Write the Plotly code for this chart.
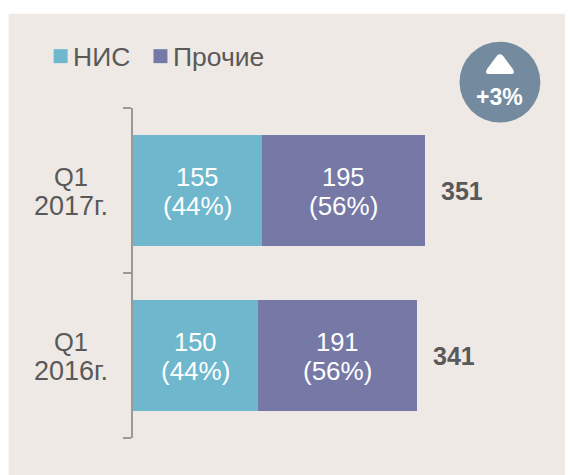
import plotly.graph_objects as go

W, H = 565, 467   # the page adds an 8px body margin, so the window is 573x475
OFF = 8
categories = ["Q1<br>2016г.", "Q1<br>2017г."]
cat_lines = [["Q1", "2016г."], ["Q1", "2017г."]]
nis = [150, 155]
other = [191, 195]
nis_share = ["44%", "44%"]
other_share = ["56%", "56%"]
totals = ["341", "351"]
series_names = ["НИС", "Прочие"]
badge = "+3%"

TEAL, PURPLE, BG, GREY, BADGE = "#6FB7CD", "#7679A6", "#EEE9E5", "#595959", "#738A9F"
FONT = "Liberation Sans"
ML, MR, MT, MB = 124.5, 120, 99.5, 36.5


def px(x):
    return (x - OFF - ML) / (W - ML - MR)


def py(y):
    return 1 - (y - OFF - MT) / (H - MT - MB)


fig = go.Figure()
for name, vals, col in [(series_names[0], nis, TEAL), (series_names[1], other, PURPLE)]:
    fig.add_bar(y=categories, x=vals, name=name, orientation="h", marker_color=col,
                marker_line_width=0, cliponaxis=False, showlegend=False)

shapes = [
    dict(type="rect", xref="paper", yref="paper", x0=px(8), x1=px(575), y0=py(13), y1=py(477),
         fillcolor=BG, line_width=0, layer="below"),
    dict(type="rect", xref="paper", yref="paper", x0=px(53), x1=px(67), y0=py(48.5), y1=py(62.5),
         fillcolor=TEAL, line_width=0),
    dict(type="rect", xref="paper", yref="paper", x0=px(153), x1=px(167), y0=py(48.5), y1=py(62.5),
         fillcolor=PURPLE, line_width=0),
    dict(type="circle", xref="paper", yref="paper", x0=px(459.5), x1=px(540.5), y0=py(41), y1=py(122),
         fillcolor=BADGE, line_width=0),
]
path = (
    f"M {px(497):.5f} {py(55):.5f} Q {px(500):.5f} {py(52):.5f} {px(503):.5f} {py(55):.5f} "
    f"L {px(512.5):.5f} {py(68):.5f} Q {px(516):.5f} {py(73.5):.5f} {px(511):.5f} {py(73.5):.5f} "
    f"L {px(489):.5f} {py(73.5):.5f} Q {px(484):.5f} {py(73.5):.5f} {px(487.5):.5f} {py(68):.5f} Z"
)
shapes.append(dict(type="path", xref="paper", yref="paper", path=path, fillcolor="white", line_width=0))


def note(**kw):
    base = dict(showarrow=False, xanchor="center", yanchor="middle")
    base.update(kw)
    return base


annotations = [
    note(xref="paper", yref="paper", x=px(70.5), y=py(56), text=series_names[0], xanchor="left",
         font=dict(family=FONT, size=26.5, color=GREY)),
    note(xref="paper", yref="paper", x=px(171), y=py(56), text=series_names[1], xanchor="left",
         font=dict(family=FONT, size=26.5, color=GREY)),
    note(xref="paper", yref="paper", x=px(500), y=py(96), text=badge,
         font=dict(family=FONT, size=23, color="white", weight="bold")),
]
SZ = 25.5
for c, lines, a, b, sa, sb, t in zip(categories, cat_lines, nis, other, nis_share, other_share, totals):
    annotations += [
        note(x=a / 2, y=c, text=str(a), yshift=14, font=dict(family=FONT, size=SZ, color="white")),
        note(x=a / 2, y=c, text=f"({sa})", yshift=-15.5, font=dict(family=FONT, size=26, color="white")),
        note(x=a + b / 2, y=c, text=str(b), yshift=14, font=dict(family=FONT, size=SZ, color="white")),
        note(x=a + b / 2, y=c, text=f"({sb})", yshift=-15.5, font=dict(family=FONT, size=26, color="white")),
        note(x=a + b, y=c, text=t, xanchor="left", xshift=14,
             font=dict(family=FONT, size=25, color=GREY, weight="bold")),
        note(xref="paper", x=px(70.5), y=c, text=lines[0], yshift=14, font=dict(family=FONT, size=SZ, color=GREY)),
        note(xref="paper", x=px(70.5), y=c, text=lines[1], yshift=-15.5, font=dict(family=FONT, size=27, color=GREY)),
    ]

fig.update_layout(
    width=W, height=H, barmode="stack", bargap=0.33, showlegend=False,
    margin=dict(l=ML, r=MR, t=MT, b=MB, autoexpand=False),
    paper_bgcolor="white", plot_bgcolor="rgba(0,0,0,0)",
    font=dict(family=FONT, color=GREY),
    shapes=shapes, annotations=annotations,
    xaxis=dict(visible=False, range=[0, (W - ML - MR) / 0.8345]),
    yaxis=dict(type="category", categoryorder="array", categoryarray=categories,
               tickson="boundaries", ticks="outside", ticklen=8, tickwidth=1.5, tickcolor="#999999",
               showline=True, linecolor="#999999", linewidth=2, showgrid=False, showticklabels=False),
)
fig.write_html("out.html", config={"displayModeBar": False})
